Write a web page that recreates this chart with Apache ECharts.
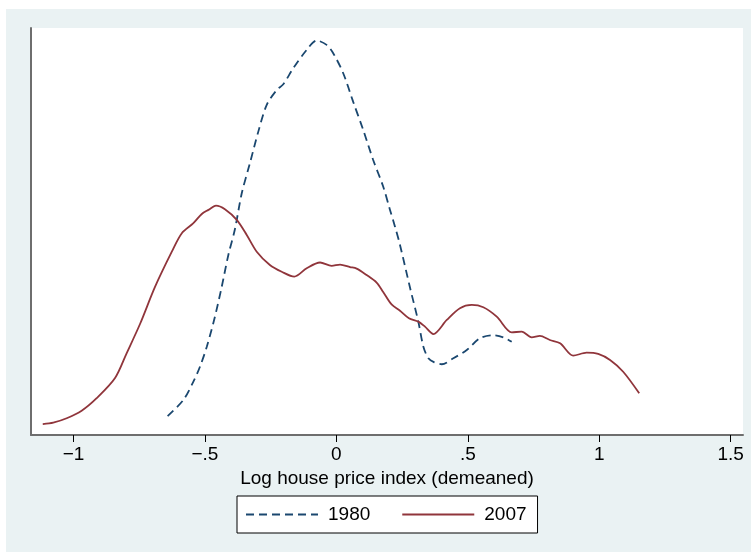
<!DOCTYPE html>
<html>
<head>
<meta charset="utf-8">
<script src="https://cdn.jsdelivr.net/npm/echarts@6/dist/echarts.min.js"></script>
<style>
html,body{margin:0;padding:0;background:#ffffff;width:751px;height:552px;overflow:hidden;}
#wrap{position:absolute;left:6px;top:9px;width:745px;height:543px;background:#eaf2f3;}
#chart{width:745px;height:543px;}
</style>
</head>
<body>
<div id="wrap"><div id="chart"></div></div>
<script>
// Kernel density estimates
var seriesNames = ['1980', '2007'];
var x1980 = [-0.642,-0.582,-0.544,-0.519,-0.493,-0.462,-0.436,-0.411,-0.386,-0.360,-0.329,-0.297,-0.265,-0.227,-0.202,-0.164,-0.113,-0.075,-0.037,-0.012,0.026,0.064,0.102,0.140,0.178,0.204,0.223,0.242,0.280,0.312,0.331,0.350,0.371,0.401,0.445,0.496,0.546,0.597,0.635,0.667];
var y1980 = [0.121,0.224,0.341,0.436,0.564,0.756,0.948,1.150,1.314,1.544,1.736,1.938,2.109,2.204,2.241,2.343,2.460,2.520,2.492,2.439,2.311,2.128,1.949,1.757,1.587,1.438,1.331,1.214,0.942,0.722,0.564,0.490,0.466,0.452,0.490,0.543,0.618,0.637,0.624,0.596];
var x2007 = [-1.117,-1.077,-1.026,-0.969,-0.912,-0.842,-0.798,-0.747,-0.690,-0.626,-0.588,-0.544,-0.512,-0.487,-0.458,-0.424,-0.379,-0.341,-0.303,-0.253,-0.208,-0.160,-0.113,-0.062,-0.018,0.014,0.052,0.077,0.115,0.153,0.178,0.210,0.242,0.276,0.312,0.337,0.369,0.420,0.470,0.515,0.559,0.610,0.667,0.705,0.743,0.774,0.812,0.851,0.901,0.952,0.996,1.041,1.091,1.152];
var y2007 = [0.070,0.079,0.107,0.155,0.235,0.364,0.522,0.709,0.946,1.171,1.289,1.353,1.412,1.438,1.465,1.442,1.374,1.278,1.171,1.086,1.043,1.012,1.065,1.102,1.080,1.089,1.073,1.063,1.022,0.974,0.914,0.834,0.794,0.746,0.724,0.692,0.645,0.735,0.810,0.831,0.816,0.756,0.656,0.660,0.624,0.633,0.607,0.586,0.507,0.526,0.518,0.479,0.404,0.266];
var xTicks = [-1, -0.5, 0, 0.5, 1, 1.5];
var xTickLabels = ['\u22121', '\u2212.5', '0', '.5', '1', '1.5'];
var xTitle = 'Log house price index (demeaned)';

function pairs(xs, ys){ var out=[]; for(var i=0;i<xs.length;i++){ out.push([xs[i], ys[i]]); } return out; }

var chart = echarts.init(document.getElementById('chart'), null, {renderer:'canvas'});
var font = 'Liberation Sans, Arial, Helvetica, sans-serif';
chart.setOption({
  backgroundColor: 'transparent',
  animation: false,
  textStyle: {fontFamily: font},
  grid: {left: 25, right: 8, top: 19, bottom: 117, show: true, backgroundColor: '#ffffff', borderWidth: 0, containLabel: false},
  xAxis: {
    type: 'value', min: -1.1617, max: 1.5468,
    name: xTitle, nameLocation: 'middle', nameGap: 23,
    nameTextStyle: {fontSize: 19, color: '#000', fontFamily: font},
    axisLine: {show: true, onZero: false, lineStyle: {color: '#6e6e6e', width: 2}},
    axisTick: {show: true, inside: false, length: 7, lineStyle: {color: '#000', width: 1}, customValues: xTicks},
    axisLabel: {show: true, fontSize: 19, color: '#000', margin: 10, fontFamily: font, customValues: xTicks,
      formatter: function(v){ var i = xTicks.indexOf(Math.round(v*10)/10); return i>=0 ? xTickLabels[i] : ''; }},
    splitLine: {show: false}
  },
  yAxis: {
    type: 'value', min: 0, max: 2.6,
    axisLine: {show: true, onZero: false, lineStyle: {color: '#6e6e6e', width: 2}},
    axisTick: {show: false}, axisLabel: {show: false}, splitLine: {show: false}
  },
  legend: {
    left: 231, top: 487,
    orient: 'horizontal',
    padding: [9, 11, 9, 8],
    itemWidth: 72, itemHeight: 18, itemGap: 31,
    backgroundColor: '#ffffff', borderColor: '#000', borderWidth: 1, borderRadius: 0,
    itemStyle: {opacity: 0},
    textStyle: {fontSize: 19, color: '#000', fontFamily: font, padding: [0, 0, 0, 5]},
    data: seriesNames
  },
  series: [
    {name: seriesNames[0], type: 'line', data: pairs(x1980, y1980), symbol: 'none', smooth: 0.3,
     lineStyle: {color: '#1a476f', width: 1.8, type: [8, 5]}, itemStyle: {color: '#1a476f'}},
    {name: seriesNames[1], type: 'line', data: pairs(x2007, y2007), symbol: 'none', smooth: 0.3,
     lineStyle: {color: '#90353b', width: 1.8, type: 'solid'}, itemStyle: {color: '#90353b'}}
  ]
});
</script>
</body>
</html>
